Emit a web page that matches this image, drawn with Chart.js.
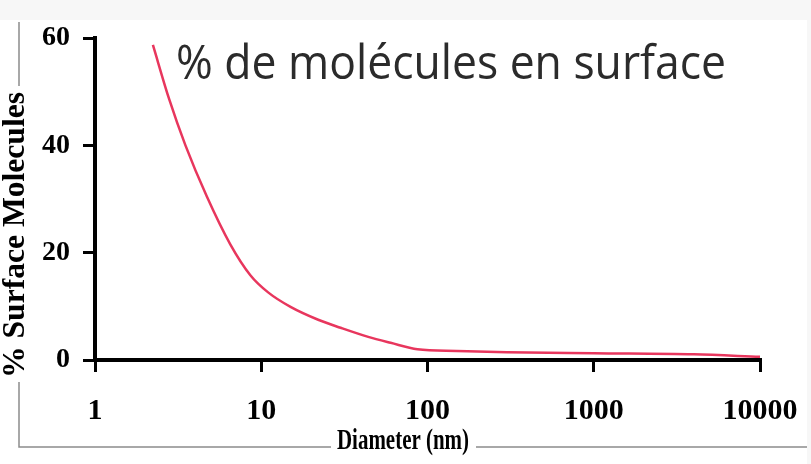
<!DOCTYPE html>
<html>
<head>
<meta charset="utf-8">
<script src="https://cdn.jsdelivr.net/npm/chart.js@4/dist/chart.umd.min.js"></script>
<style>
html,body{margin:0;padding:0;background:#fff}
canvas{display:block}
</style>
</head>
<body>
<canvas id="surfaceChart" width="811" height="464"></canvas>
<script>
// diameter (nm) and % of molecules at the surface
const diameters = [2.23, 2.8, 3.5, 4.7, 6.5, 8.6, 11, 15, 22, 30, 44, 60, 87, 150, 300, 1000, 4000, 10000]
const surfacePct = [58.7, 48.5, 40, 30.5, 21.6, 15.8, 12.6, 9.9, 7.5, 6.0, 4.3, 3.2, 2.0, 1.7, 1.45, 1.25, 1.05, 0.6]

const xTicks = [1, 10, 100, 1000, 10000]
const yTicks = [0, 20, 40, 60]

const chartTitle = "% de molécules en surface"
const xTitle = "Diameter (nm)"
const yTitle = "% Surface Molecules"

const serif = "'Liberation Serif', 'Times New Roman', serif"

const decorPlugin = {
id:"decor",
beforeDraw(chart){
const ctx = chart.ctx
ctx.save()
ctx.fillStyle = "#f7f7f7"
ctx.fillRect(0,0,chart.width,chart.height)
ctx.fillStyle = "#ffffff"
ctx.fillRect(0,20,807,chart.height-20)
ctx.restore()
},
afterDraw(chart){
const ctx = chart.ctx
ctx.save()

// frame lines around the axis titles
ctx.strokeStyle = "#8c8c8c"
ctx.lineWidth = 1.5
ctx.beginPath()
ctx.moveTo(19,22); ctx.lineTo(19,86)
ctx.moveTo(19,382); ctx.lineTo(19,447); ctx.lineTo(331,447)
ctx.moveTo(476,447); ctx.lineTo(807,447)
ctx.stroke()

// title inside the plot
ctx.fillStyle = "#2b2b2b"
ctx.font = "47px 'Open Sans', 'Noto Sans', sans-serif"
ctx.textBaseline = "alphabetic"
ctx.textAlign = "left"
let w = ctx.measureText(chartTitle).width
ctx.translate(176,79)
ctx.scale(550/w,1)
ctx.fillText(chartTitle,0,0)
ctx.restore()

// x axis title
ctx.save()
ctx.fillStyle = "#000"
ctx.font = "bold 30px " + serif
ctx.textAlign = "center"
ctx.textBaseline = "middle"
w = ctx.measureText(xTitle).width
ctx.translate(403,441)
ctx.scale(132/w,1)
ctx.fillText(xTitle,0,0)
ctx.restore()

// y axis title, cut by the left edge like the original
ctx.save()
ctx.fillStyle = "#000"
ctx.font = "bold 36px " + serif
ctx.textAlign = "center"
ctx.textBaseline = "alphabetic"
w = ctx.measureText(yTitle).width
ctx.translate(24,235)
ctx.rotate(-Math.PI/2)
ctx.scale(286/w,0.85)
ctx.fillText(yTitle,0,0)
ctx.restore()
}
}

const ctx = document.getElementById("surfaceChart")

const surfaceChart = new Chart(ctx,{
type:"line",
data:{
datasets:[{
data:diameters.map((d,i)=>({x:d,y:surfacePct[i]})),
borderColor:"#e8365d",
borderWidth:2.5,
pointRadius:0,
fill:false,
cubicInterpolationMode:"monotone"
}]
},
options:{
responsive:false,
animation:false,
devicePixelRatio:1,
layout:{ padding:{ top:38, right:51, bottom:0, left:0 } },
plugins:{
legend:{ display:false },
tooltip:{ enabled:false }
},
scales:{
x:{
type:"logarithmic",
min:1,
max:10000,
afterBuildTicks:scale=>{ scale.ticks = xTicks.map(v=>({value:v})) },
afterFit:scale=>{
scale.height = 104
scale.paddingLeft = 0
scale.paddingRight = 0
},
ticks:{
callback:v=>String(v),
color:"#000",
font:{ family:serif, size:30, weight:"bold" },
padding:21,
maxRotation:0,
autoSkip:false
},
grid:{ drawOnChartArea:false, color:"#000", lineWidth:3, tickLength:12 },
border:{ color:"#000", width:4 }
},
y:{
min:0,
max:60,
afterBuildTicks:scale=>{ scale.ticks = yTicks.map(v=>({value:v})) },
afterFit:scale=>{
scale.width = 95
scale.paddingTop = 0
scale.paddingBottom = 0
},
ticks:{
color:"#000",
font:{ family:serif, size:28, weight:"bold" },
padding:13
},
grid:{ drawOnChartArea:false, color:"#000", lineWidth:3, tickLength:12 },
border:{ color:"#000", width:4 }
}
}
},
plugins:[decorPlugin]
})
</script>
</body>
</html>
